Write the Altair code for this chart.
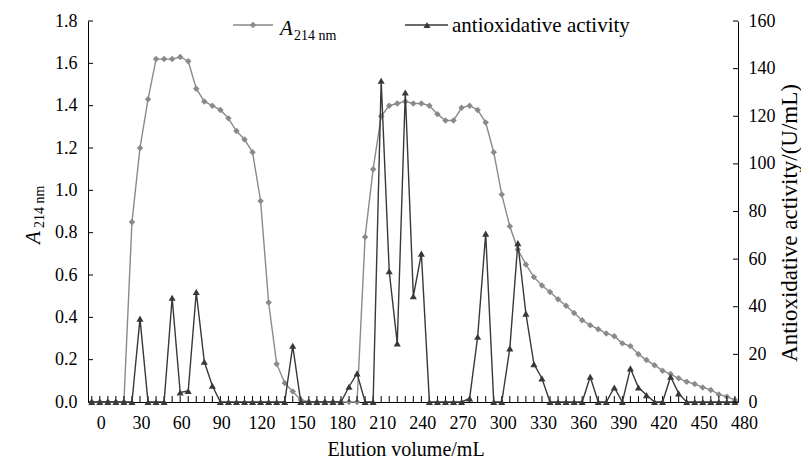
import altair as alt
import pandas as pd

# ---------------- data ----------------
volume = list(range(0, 481, 6))  # elution volume of each fraction, mL

a214 = [0, 0, 0, 0, 0,
        0.85, 1.20, 1.43, 1.62, 1.62, 1.62, 1.63, 1.61, 1.48, 1.42, 1.40,
        1.38, 1.34, 1.28, 1.24, 1.18, 0.95, 0.47, 0.18, 0.09, 0.05, 0.01,
        0, 0, 0, 0, 0, 0, 0,
        0.78, 1.10, 1.35, 1.40, 1.41, 1.42, 1.41, 1.41, 1.40, 1.36, 1.33,
        1.33, 1.39, 1.40, 1.38, 1.32, 1.18, 0.98, 0.83, 0.72, 0.65, 0.59,
        0.55, 0.52, 0.485, 0.455, 0.42, 0.386, 0.363, 0.344, 0.324, 0.311,
        0.277, 0.264, 0.226, 0.198, 0.174, 0.148, 0.132, 0.112, 0.096,
        0.085, 0.069, 0.057, 0.036, 0.025, 0.01]

activity = [0, 0, 0, 0, 0, 0,
            35.0, 0, 0, 0,
            43.8, 4.0, 4.6, 46.2, 16.9, 6.8,
            0, 0, 0, 0, 0, 0, 0, 0, 0,
            23.6,
            0, 0, 0, 0, 0, 0,
            6.4, 12.0,
            0, 0,
            134.9, 54.9, 24.6, 130.0, 44.4, 62.3,
            0, 0, 0, 0, 0,
            1.5, 27.4, 70.7,
            0, 0,
            22.5, 66.7, 37.1, 15.9, 9.9,
            0, 0, 0, 0, 0,
            10.6, 0, 0, 6.1, 0, 14.1, 6.1, 2.9, 0, 0, 10.6, 3.6,
            0, 0, 0, 0, 0, 0, 0]

x_ticks = list(range(0, 481, 30))
left_ticks = [0, 0.2, 0.4, 0.6, 0.8, 1.0, 1.2, 1.4, 1.6, 1.8]
right_ticks = [0, 20, 40, 60, 80, 100, 120, 140, 160]

df = pd.DataFrame({"volume": volume, "a214": a214, "activity": activity})
lt = pd.DataFrame({"v": left_ticks})
rt = pd.DataFrame({"v": right_ticks})
one = pd.DataFrame({"d": [0]})

W, H = 650, 381
FONT = "Liberation Serif"
GRAY = "#8a8a8a"
DARK = "#383838"

xscale = alt.Scale(domain=[-2.8, 482.3], nice=False, zero=False)
xaxis = alt.Axis(values=x_ticks, ticks=False, tickSize=0, labelPadding=12,
                 labelOffset=9, title=None, grid=False, domainColor="#000",
                 labelFont=FONT, labelFontSize=18, labelColor="#000",
                 labelFlush=False, labelOverlap=False)
X = alt.X("volume:Q", scale=xscale, axis=xaxis)

yl = alt.Scale(domain=[0, 1.8], nice=False, zero=True)
yr = alt.Scale(domain=[0, 160], nice=False, zero=True)
yl_axis = alt.Axis(values=left_ticks, format=".1f", ticks=False, tickSize=0,
                   labelPadding=11, title=None, grid=False, domainColor="#000",
                   labelFont=FONT, labelFontSize=18, labelColor="#000",
                   orient="left", labelFlush=False, labelOverlap=False)
yr_axis = alt.Axis(values=right_ticks, format="d", ticks=False, tickSize=0,
                   labelPadding=10, title=None, grid=False, domainColor="#000",
                   labelFont=FONT, labelFontSize=18, labelColor="#000",
                   orient="right", labelFlush=False, labelOverlap=False)

base = alt.Chart(df)

# ---------- left (A214) layer ----------
a_line = base.mark_line(color=GRAY, strokeWidth=1.4).encode(
    x=X, y=alt.Y("a214:Q", scale=yl, axis=yl_axis))
a_pts = base.mark_point(shape="diamond", filled=True, size=42, color=GRAY,
                        opacity=1).encode(
    x=X, y=alt.Y("a214:Q", scale=yl, axis=yl_axis))
l_ticks = alt.Chart(lt).mark_rule(color="#000", strokeWidth=1).encode(
    y=alt.Y("v:Q", scale=yl, axis=yl_axis), x=alt.value(0), x2=alt.value(5))
x_minor = base.mark_rule(color="#000", strokeWidth=1).encode(
    x=X, y=alt.value(H), y2=alt.value(H - 6))

# titles and legend (text / decoration)
txt = alt.Chart(one)
x_title = txt.mark_text(text="Elution volume/mL", font=FONT, fontSize=20,
                        color="#000", align="center", baseline="middle").encode(
    x=alt.value(318), y=alt.value(429))
yl_A = txt.mark_text(text="A", font=FONT, fontSize=21, fontStyle="italic",
                     color="#000", align="left", baseline="alphabetic",
                     angle=270).encode(x=alt.value(-48), y=alt.value(223))
yl_sub = txt.mark_text(text="214 nm", font=FONT, fontSize=14, color="#000",
                       align="left", baseline="alphabetic", angle=270).encode(
    x=alt.value(-44), y=alt.value(207))
yr_title = txt.mark_text(text="Antioxidative activity/(U/mL)", font=FONT,
                         fontSize=23, color="#000", align="center",
                         baseline="middle", angle=270).encode(
    x=alt.value(702), y=alt.value(202))

leg1_line = txt.mark_rule(color=GRAY, strokeWidth=1.4).encode(
    x=alt.value(145), x2=alt.value(185), y=alt.value(4))
leg1_pt = txt.mark_point(shape="diamond", filled=True, size=42, color=GRAY,
                         opacity=1).encode(x=alt.value(165), y=alt.value(4))
leg1_A = txt.mark_text(text="A", font=FONT, fontSize=21, fontStyle="italic",
                       color="#000", align="left", baseline="alphabetic").encode(
    x=alt.value(192), y=alt.value(14))
leg1_sub = txt.mark_text(text="214 nm", font=FONT, fontSize=14, color="#000",
                         align="left", baseline="alphabetic").encode(
    x=alt.value(206), y=alt.value(19))
leg2_line = txt.mark_rule(color=DARK, strokeWidth=1.4).encode(
    x=alt.value(317), x2=alt.value(360), y=alt.value(4))
leg2_pt = txt.mark_point(shape="triangle-up", filled=True, size=50, color=DARK,
                         opacity=1).encode(x=alt.value(339), y=alt.value(4))
leg2_txt = txt.mark_text(text="antioxidative activity", font=FONT, fontSize=21,
                         color="#000", align="left", baseline="alphabetic").encode(
    x=alt.value(364), y=alt.value(11))

left = alt.layer(a_line, a_pts, l_ticks, x_minor, x_title, yl_A, yl_sub,
                 yr_title, leg1_line, leg1_pt, leg1_A, leg1_sub, leg2_line,
                 leg2_pt, leg2_txt)

# ---------- right (activity) layer ----------
r_line = base.mark_line(color=DARK, strokeWidth=1.4).encode(
    x=X, y=alt.Y("activity:Q", scale=yr, axis=yr_axis))
r_pts = base.mark_point(shape="triangle-up", filled=True, size=50, color=DARK,
                        opacity=1).encode(
    x=X, y=alt.Y("activity:Q", scale=yr, axis=yr_axis))
r_ticks = alt.Chart(rt).mark_rule(color="#000", strokeWidth=1).encode(
    y=alt.Y("v:Q", scale=yr, axis=yr_axis), x=alt.value(W - 5), x2=alt.value(W))

right = alt.layer(r_line, r_pts, r_ticks)

chart = alt.layer(left, right).resolve_scale(y="independent").properties(
    width=W, height=H,
    padding={"left": 80, "top": 13, "right": 63, "bottom": 57},
    autosize=alt.AutoSizeParams(type="none"),
    background="white",
).configure_view(stroke=None)

chart.save("out.html", embed_options={"renderer": "svg", "actions": False})
